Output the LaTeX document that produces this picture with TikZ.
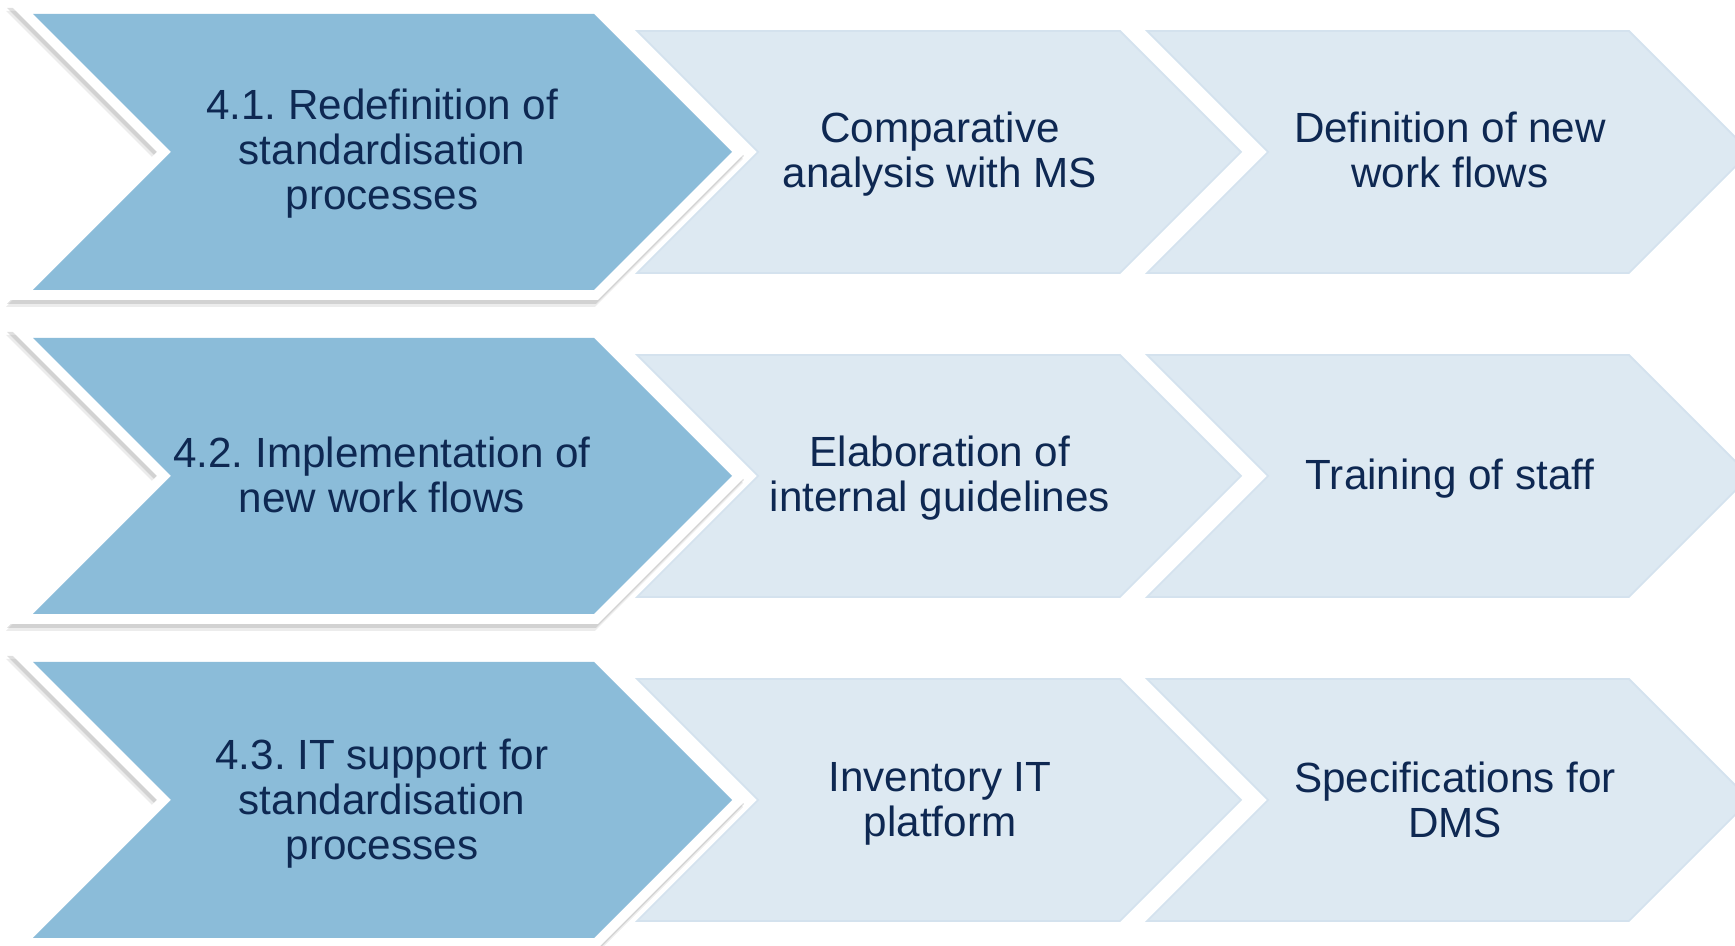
\documentclass[tikz,border=0pt]{standalone}
\usepackage{fontspec}
\setmainfont{Liberation Sans}
\usepackage{tikz}
\usetikzlibrary{positioning}
\usepackage{color}
\definecolor{steelblue}{RGB}{139, 188, 217}
\definecolor{paleblue}{RGB}{221, 233, 242}
\definecolor{paleedge}{RGB}{212, 226, 238}
\definecolor{navyink}{RGB}{14, 40, 82}
\definecolor{shadowgray}{RGB}{150, 150, 150}
\frenchspacing

\begin{document}
\begin{tikzpicture}[x=0.01cm, y=-0.01cm,
    steptext/.style={text=navyink, align=center, font=\fontsize{12}{12.8}\selectfont}]
            \useasboundingbox (0,0) rectangle (1735,946);
            \clip             (0,0) rectangle (1735,946);
            % the three rows of chevrons
            \foreach \c in {152, 476, 800} {
                \fill[shadowgray, opacity=0.18, shift={(-3,7)}]
                     (9,\c-148) -- (598,\c-148) -- (746,\c) -- (598,\c+148) -- (9,\c+148) -- (157,\c) -- cycle;
                \fill[shadowgray, opacity=0.30, shift={(-2,4)}]
                     (9,\c-148) -- (598,\c-148) -- (746,\c) -- (598,\c+148) -- (9,\c+148) -- (157,\c) -- cycle;
                \fill[white]
                     (9,\c-148) -- (598,\c-148) -- (746,\c) -- (598,\c+148) -- (9,\c+148) -- (157,\c) -- cycle;
                \fill[steelblue]
                     (33,\c-138) -- (594,\c-138) -- (732,\c) -- (594,\c+138) -- (33,\c+138) -- (171,\c) -- cycle;
                \filldraw[color=paleedge, fill=paleblue, line width=0.5pt]
                     (637,\c-121) -- (1120,\c-121) -- (1241,\c) -- (1120,\c+121) -- (637,\c+121) -- (758,\c) -- cycle;
                \filldraw[color=paleedge, fill=paleblue, line width=0.5pt]
                     (1147,\c-121) -- (1629,\c-121) -- (1750,\c) -- (1629,\c+121) -- (1147,\c+121) -- (1268,\c) -- cycle;
            }
            % labels
            \node[steptext] (redef)    at ( 382,154) {4.1. Redefinition of\\standardisation\\processes};
            \node[steptext] (compare)  at ( 940,154) {Comparative\\analysis with MS};
            \node[steptext] (defflow)  at (1450,150) {Definition of new\\work flows};
            \node[steptext] (implem)   at ( 382,475) {4.2. Implementation of\\new work flows};
            \node[steptext] (guides)   at ( 940,478) {Elaboration of\\internal guidelines};
            \node[steptext] (training) at (1450,479) {Training of staff};
            \node[steptext] (itsup)    at ( 382,804) {4.3. IT support for\\standardisation\\processes};
            \node[steptext] (invent)   at ( 940,804) {Inventory IT\\platform};
            \node[steptext] (specs)    at (1455,800) {Specifications for\\DMS};
        \end{tikzpicture}
\end{document}
